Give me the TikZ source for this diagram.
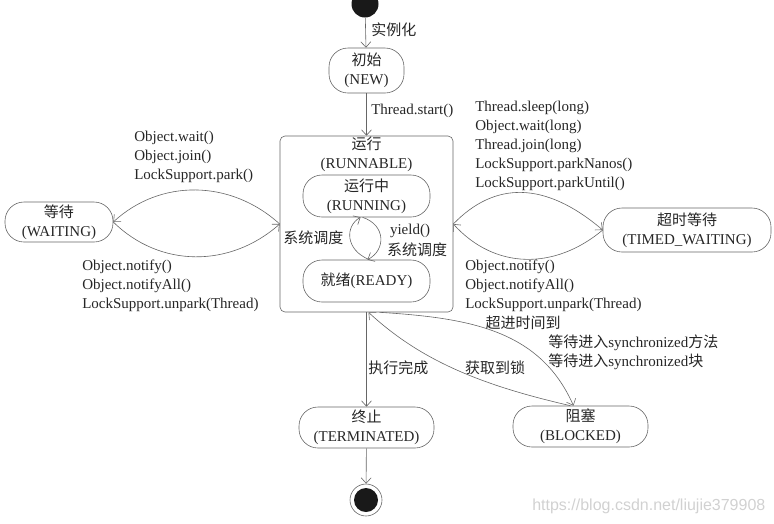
\documentclass[tikz,border=0pt]{standalone}
\usepackage{fontspec}
\setmainfont{Liberation Serif}
\newfontfamily\cjk{Noto Sans CJK SC}
\newfontfamily\wmfont{Liberation Sans}
\usetikzlibrary{arrows.meta}
\definecolor{linegray}{gray}{0.4}
\definecolor{txt}{gray}{0.15}
\definecolor{dot}{gray}{0.1}
\newcommand{\zh}[1]{{\cjk #1}}
\begin{document}
\begin{tikzpicture}[x=1pt, y=-1pt, font=\fontsize{15}{19}\selectfont, line width=0.6pt,
  state/.style={draw=linegray, rounded corners=19pt, align=center, inner sep=0pt, text=txt},
  lbl/.style={align=left, inner sep=0pt, text=txt},
  tr/.style={draw=linegray, -{Straight Barb[length=5.5pt,width=10pt]}}]
\useasboundingbox (0,0) rectangle (774,523);
\node[circle, fill=dot, minimum size=27pt, inner sep=0pt] (start) at (365,4) {};
\node[state, minimum width=75pt, minimum height=45pt] (new) at (366.5,70.5) {\zh{初始}\\(NEW)};
\draw[tr] (start) -- (new);
\node[lbl, anchor=west] (inst) at (371,30) {\zh{实例化}};
\node[draw=linegray, rounded corners=5pt, minimum width=173pt, minimum height=176pt] (runnable) at (366.5,224) {};
\node[lbl, align=center, anchor=north] (runtitle) at (366.5,137) {\zh{运行}\\(RUNNABLE)};
\draw[tr] (new) -- (runnable);
\node[lbl, anchor=west] (start_lbl) at (371,111) {Thread.start()};
\node[state, minimum width=127pt, minimum height=42pt] (running) at (366.5,196) {\zh{运行中}\\(RUNNING)};
\node[state, minimum width=127pt, minimum height=42pt] (ready) at (366.5,281) {\zh{就绪}(READY)};
\draw[tr] ([xshift=3pt]ready.north) .. controls (345,250) and (345,226) .. ([xshift=-6pt]running.south);
\draw[tr] ([xshift=-4pt]running.south) .. controls (386,225) and (386,250) .. ([xshift=1pt]ready.north);
\node[lbl, anchor=west] (sched1) at (283,238) {\zh{系统调度}};
\node[lbl] (yield) at (410,231) {yield()};
\node[lbl] (sched2) at (417,250) {\zh{系统调度}};
\node[state, minimum width=108pt, minimum height=40pt] (waiting) at (59,222) {\zh{等待}\\(WAITING)};
\draw[tr] (runnable.west) .. controls (230,179) and (160,179) .. (waiting.east);
\draw[tr] (waiting.east) .. controls (160,268) and (230,268) .. (runnable.west);
\node[lbl, anchor=west] (waitin) at (134,157) {Object.wait()\\Object.join()\\LockSupport.park()};
\node[lbl, anchor=west] (waitout) at (82,286) {Object.notify()\\Object.notifyAll()\\LockSupport.unpark(Thread)};
\node[state, minimum width=168pt, minimum height=44pt] (timed) at (687,230) {\zh{超时等待}\\(TIMED\_WAITING)};
\draw[tr] (runnable.east) .. controls (495,181) and (545,181) .. (timed.west);
\draw[tr] (timed.west) .. controls (555,270) and (495,270) .. (runnable.east);
\node[lbl, anchor=west] (timedin) at (475,146) {Thread.sleep(long)\\Object.wait(long)\\Thread.join(long)\\LockSupport.parkNanos()\\LockSupport.parkUntil()};
\node[lbl, anchor=west] (timedout) at (465,286) {Object.notify()\\Object.notifyAll()\\LockSupport.unpark(Thread)};
\node[lbl] (timeout) at (523,323) {\zh{超进时间到}};
\node[state, minimum width=135pt, minimum height=41pt] (terminated) at (366.5,427.5) {\zh{终止}\\(TERMINATED)};
\node[state, minimum width=135pt, minimum height=41pt] (blocked) at (580.5,426.5) {\zh{阻塞}\\(BLOCKED)};
\draw[tr] (runnable) -- (terminated);
\node[lbl, anchor=west] (done) at (368,368) {\zh{执行完成}};
\draw[tr] ([xshift=13pt]runnable.south) .. controls (470,318) and (540,330) .. ([xshift=-7pt]blocked.north);
\draw[tr] ([xshift=-10pt]blocked.north) .. controls (480,385) and (420,360) .. ([xshift=2pt]runnable.south);
\node[lbl] (lock) at (495,368) {\zh{获取到锁}};
\node[lbl, anchor=west] (syncin) at (548,352) {\zh{等待进入}synchronized\zh{方法}\\\zh{等待进入}synchronized\zh{块}};
\node[circle, draw=linegray, minimum size=32pt, inner sep=0pt] (end) at (366,500) {};
\fill[dot] (end.center) circle (12pt);
\draw[tr] (terminated) -- (end);
\node[anchor=west, inner sep=0pt, text=black!18, font=\wmfont\fontsize{16}{18}\selectfont] (mark) at (532,506) {https://blog.csdn.net/liujie379908};
\end{tikzpicture}
\end{document}
